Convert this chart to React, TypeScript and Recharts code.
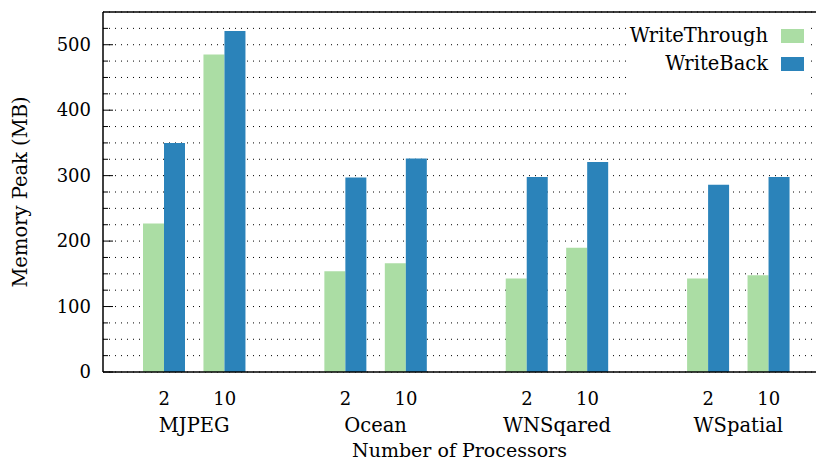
import React from "react";
import {
	BarChart,
	Bar,
	XAxis,
	YAxis,
	CartesianGrid,
	ReferenceLine,
} from "recharts";

// benchmark groups, processor counts per group and the two series
const groups = ["MJPEG", "Ocean", "WNSqared", "WSpatial"];
const procs = ["2", "10"];
const writeThrough = [227, 485, 154, 166, 143, 190, 143, 148];
const writeBack = [350, 521, 297, 326, 298, 321, 286, 298];
const yTicks = [0, 25, 50, 75, 100, 125, 150, 175, 200, 225, 250, 275, 300, 325, 350, 375, 400, 425, 450, 475, 500, 525];

const FONT = "'DejaVu Serif', serif";
const GREEN = "#abdda4";
const BLUE = "#2b83ba";
const series = [
	{ key: "wt", name: "WriteThrough", color: GREEN },
	{ key: "wb", name: "WriteBack", color: BLUE },
];

// build rows, with an empty slot between groups
const rows: any[] = [];
groups.forEach((g, gi) => {
	if (gi > 0) rows.push({ proc: "", group: "", wt: null, wb: null });
	procs.forEach((p, pi) => {
		const i = gi * procs.length + pi;
		rows.push({ proc: p, group: pi === 0 ? g : "", wt: writeThrough[i], wb: writeBack[i] });
	});
});

const XTick = (props: any) => {
	const { x, y, payload } = props;
	const row = rows[payload.index];
	if (!row || !row.proc) return null;
	return (
		<g>
			<text x={x} y={y + 33} textAnchor="middle" fill="#000" fontSize={18} fontFamily={FONT}>
				{row.proc}
			</text>
			{row.group && (
				<text x={x + 30} y={y + 60} textAnchor="middle" fill="#000" fontSize={19.5} fontFamily={FONT}>
					{row.group}
				</text>
			)}
		</g>
	);
};

const YTick = (props: any) => {
	const { x, y, payload } = props;
	const major = payload.value % 100 === 0;
	return (
		<g>
			<line x1={x + 12} x2={x + 12 + (major ? 10 : 5)} y1={y} y2={y} stroke="#000" />
			{major && (
				<text x={x} y={y} dy="0.35em" textAnchor="end" fill="#000" fontSize={18} fontFamily={FONT}>
					{payload.value}
				</text>
			)}
		</g>
	);
};

// legend drawn over the plot, white box hides the grid behind it
const LegendBox = () => (
	<div
		style={{
			position: "absolute",
			left: 628,
			top: 18,
			width: 182,
			height: 82,
			paddingTop: 4,
			boxSizing: "border-box",
			background: "#fff",
		}}>
		{series.map((s) => (
			<div
				key={s.key}
				style={{ display: "flex", justifyContent: "flex-end", alignItems: "center", height: 28, paddingRight: 6 }}>
				<span style={{ fontFamily: FONT, fontSize: 19.5, color: "#000", lineHeight: "28px" }}>{s.name}</span>
				<span style={{ display: "inline-block", width: 23, height: 14, marginLeft: 13, background: s.color }} />
			</div>
		))}
	</div>
);

export default function App() {
	return (
		<div style={{ position: "absolute", left: 0, top: 0, width: 816, height: 460 }}>
			<BarChart
				width={816}
				height={460}
				data={rows}
				barSize={21}
				barGap={0}
				margin={{ top: 12, right: 0, bottom: 0, left: 0 }}
				style={{ fontFamily: FONT }}>
				<CartesianGrid horizontal vertical={false} stroke="#000" strokeDasharray="1 5" />
				<XAxis
					dataKey="proc"
					interval={0}
					height={88}
					tickSize={0}
					tickMargin={0}
					tickLine={false}
					axisLine={{ stroke: "#000", strokeWidth: 1.5 }}
					padding={{ left: 31, right: 17 }}
					tick={<XTick />}
					label={{
						value: "Number of Processors",
						position: "insideBottom",
						offset: 3,
						fill: "#000",
						fontSize: 19,
						fontFamily: FONT,
					}}
				/>
				<YAxis
					domain={[0, 550]}
					ticks={yTicks}
					interval={0}
					width={103}
					tickSize={0}
					tickMargin={12}
					tickLine={false}
					axisLine={{ stroke: "#000", strokeWidth: 1.5 }}
					tick={<YTick />}
					label={{
						value: "Memory Peak (MB)",
						angle: -90,
						position: "insideLeft",
						offset: 20,
						fill: "#000",
						fontSize: 19.5,
						fontFamily: FONT,
						style: { textAnchor: "middle" },
					}}
				/>
				<ReferenceLine y={550} stroke="#000" strokeWidth={1.5} />
				{series.map((s) => (
					<Bar key={s.key} dataKey={s.key} name={s.name} fill={s.color} isAnimationActive={false} />
				))}
			</BarChart>
			<LegendBox />
		</div>
	);
}
